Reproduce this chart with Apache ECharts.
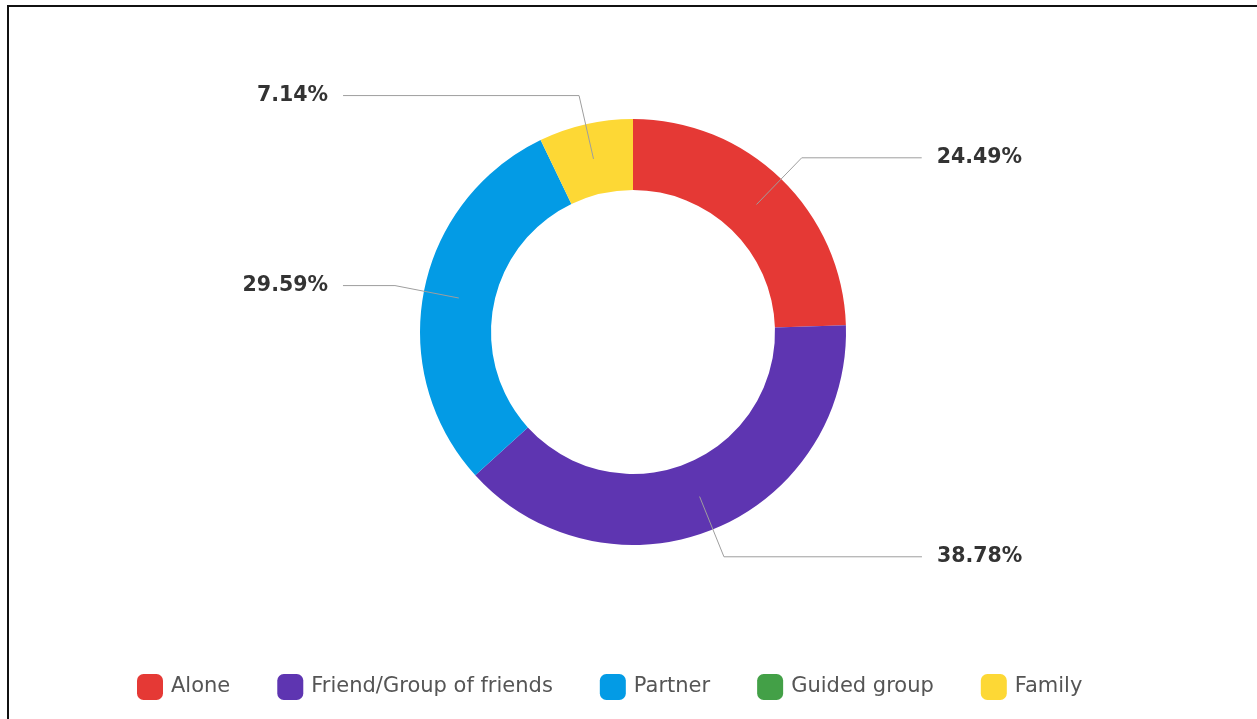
<!DOCTYPE html>
<html>
<head>
<meta charset="utf-8">
<title>Travel companions</title>
<script src="https://cdn.jsdelivr.net/npm/echarts@6/dist/echarts.min.js"></script>
<style>
  html, body { margin: 0; padding: 0; background: #fff; overflow: hidden; }
  #frame {
    position: absolute; left: 7px; top: 5px; right: -20px; bottom: -20px;
    border-top: 2px solid #111; border-left: 2px solid #111;
  }
  #chart { position: absolute; left: 0; top: 0; width: 1257px; height: 719px; }
</style>
</head>
<body>
<div id="frame"></div>
<div id="chart"></div>
<script>
// Who people travel with (share of respondents, %)
const categories = ['Alone', 'Friend/Group of friends', 'Partner', 'Guided group', 'Family'];
const shares = [24.49, 38.78, 29.59, 0, 7.14];
const palette = ['#E53935', '#5E35B1', '#039BE5', '#43A047', '#FDD835'];

// horizontal run of each leader line, so the labels sit in two columns
const leaderRun = [120, 198, 52, 0, 236];

const center = [633, 332];

const chart = echarts.init(document.getElementById('chart'), null, { renderer: 'canvas' });

const ringData = categories.map((name, i) => ({ name, value: shares[i] }));

const labelData = categories.map((name, i) => ({
  name,
  value: shares[i],
  label: { show: shares[i] > 0 },
  labelLine: { show: shares[i] > 0, length2: leaderRun[i] }
}));

chart.setOption({
  animation: false,
  color: palette,
  legend: {
    data: categories,
    left: 137,
    top: 674,
    padding: 0,
    itemWidth: 26,
    itemHeight: 26,
    itemGap: 47,
    icon: 'roundRect',
    selectedMode: false,
    textStyle: {
      fontFamily: 'DejaVu Sans',
      fontSize: 21,
      color: '#555',
      padding: [0, 0, 0, 3]
    }
  },
  series: [
    {
      name: 'ring',
      type: 'pie',
      center: center,
      radius: [142, 213],
      startAngle: 90,
      clockwise: true,
      silent: true,
      itemStyle: { borderWidth: 0 },
      label: { show: false },
      labelLine: { show: false },
      emphasis: { disabled: true },
      data: ringData
    },
    {
      name: 'labels',
      type: 'pie',
      center: center,
      radius: [0, 177.5],
      startAngle: 90,
      clockwise: true,
      silent: true,
      z: 3,
      itemStyle: { color: 'rgba(0,0,0,0)', borderWidth: 0 },
      emphasis: { disabled: true },
      label: {
        show: true,
        position: 'outside',
        formatter: p => p.value.toFixed(2) + '%',
        fontFamily: 'DejaVu Sans',
        fontWeight: 'bold',
        fontSize: 20.5,
        color: '#333',
        distanceToLabelLine: 15
      },
      labelLine: {
        show: true,
        length: 65,
        smooth: false,
        lineStyle: { color: '#9e9e9e', width: 1 }
      },
      data: labelData
    }
  ]
});
</script>
</body>
</html>
